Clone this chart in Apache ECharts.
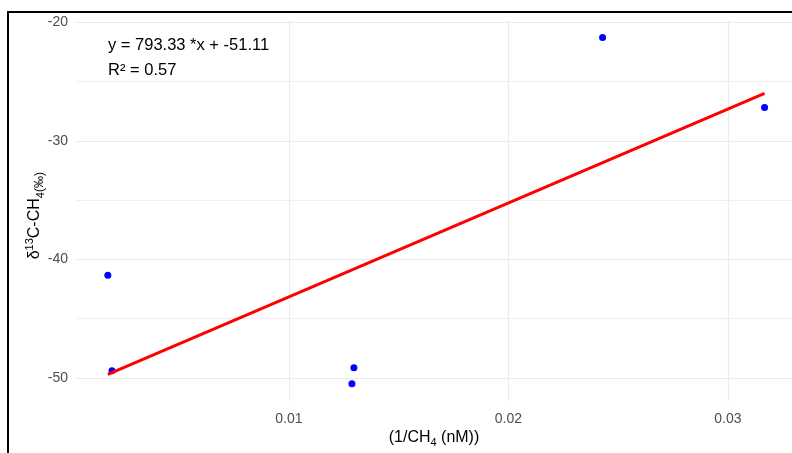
<!DOCTYPE html>
<html>
<head>
<meta charset="utf-8">
<script src="https://cdn.jsdelivr.net/npm/echarts@6/dist/echarts.min.js"></script>
<style>
html,body{margin:0;padding:0;background:#fff;}
#chart{width:792px;height:453px;}
</style>
</head>
<body>
<div id="chart"></div>
<script>
// ---- data ----
const xValues = [0.00175, 0.00194, 0.01287, 0.01296, 0.02429, 0.03167];
const yValues = [-41.34, -49.41, -50.50, -49.16, -21.28, -27.18];
const slope = 793.33;
const intercept = -51.11;
const rSquared = 0.57;
const xTickValues = [0.01, 0.02, 0.03];
const xTickLabels = ['0.01', '0.02', '0.03'];
const xMinorValues = [0.005, 0.015, 0.025];
const yTickValues = [-50, -40, -30, -20];
const yTickLabels = ['-50', '-40', '-30', '-20'];
const yMinorValues = [-45, -35, -25];

// ---- build ----
const points = xValues.map((x, i) => [x, yValues[i]]);
const xLo = Math.min(...xValues), xHi = Math.max(...xValues);
const fitLine = [[xLo, slope * xLo + intercept], [xHi, slope * xHi + intercept]];

const gridColor = '#ebebeb';
const gridLines = [];
xTickValues.forEach(v => gridLines.push({xAxis: v, lineStyle: {color: gridColor, width: 1.1, type: 'solid'}}));
xMinorValues.forEach(v => gridLines.push({xAxis: v, lineStyle: {color: gridColor, width: 0.8, type: 'solid'}}));
yTickValues.forEach(v => gridLines.push({yAxis: v, lineStyle: {color: gridColor, width: 1.1, type: 'solid'}}));
yMinorValues.forEach(v => gridLines.push({yAxis: v, lineStyle: {color: gridColor, width: 0.8, type: 'solid'}}));

const chart = echarts.init(document.getElementById('chart'), null, {renderer: 'canvas'});
const font = 'Liberation Sans, Arial, sans-serif';

chart.setOption({
  animation: false,
  backgroundColor: '#ffffff',
  textStyle: {fontFamily: font},
  grid: {left: 76, top: 20.5, right: 0, height: 383.4, containLabel: false},
  xAxis: {
    type: 'value',
    min: 0.0003, max: 0.03292,
    axisLine: {show: false}, axisTick: {show: false}, splitLine: {show: false},
    axisLabel: {
      customValues: xTickValues,
      formatter: v => { const i = xTickValues.findIndex(t => Math.abs(t - v) < 1e-9); return i >= 0 ? xTickLabels[i] : ''; },
      color: '#4d4d4d', fontSize: 14, margin: 11, fontFamily: font
    },
    name: '{n|(1/CH}{sub|4}{n| (nM))}',
    nameLocation: 'middle', nameGap: 27, nameMoveOverlap: false,
    nameTextStyle: {
      color: '#000', fontFamily: font, fontSize: 16,
      rich: {
        n: {fontSize: 16, lineHeight: 20, color: '#000', fontFamily: font},
        sub: {fontSize: 11, lineHeight: 12, verticalAlign: 'bottom', color: '#000', fontFamily: font}
      }
    }
  },
  yAxis: {
    type: 'value',
    min: -51.96, max: -19.84,
    axisLine: {show: false}, axisTick: {show: false}, splitLine: {show: false},
    axisLabel: {
      customValues: yTickValues,
      formatter: v => { const i = yTickValues.findIndex(t => Math.abs(t - v) < 1e-9); return i >= 0 ? yTickLabels[i] : ''; },
      color: '#4d4d4d', fontSize: 14, margin: 8, fontFamily: font
    },
    name: '{n|δ}{sup|13}{n|C-CH}{sub|4}{pm|(‰)}',
    nameLocation: 'middle', nameGap: 30, nameMoveOverlap: false,
    nameTextStyle: {
      color: '#000', fontFamily: font, fontSize: 16, padding: [0, 10, 0, 0],
      rich: {
        n: {fontSize: 16, lineHeight: 22, color: '#000', fontFamily: font},
        sup: {fontSize: 11, lineHeight: 10, verticalAlign: 'top', color: '#000', fontFamily: font},
        sub: {fontSize: 11, lineHeight: 11, verticalAlign: 'bottom', color: '#000', fontFamily: font},
        pm: {fontSize: 12, lineHeight: 18, verticalAlign: 'bottom', color: '#000', fontFamily: font}
      }
    }
  },
  graphic: [
    {type: 'rect', shape: {x: 8, y: 12, width: 900, height: 600}, style: {fill: 'none', stroke: '#000', lineWidth: 2}, z: 100, silent: true},
    {type: 'text', left: 108, top: 37, style: {text: 'y = ' + slope.toFixed(2) + ' *x + ' + intercept.toFixed(2), fill: '#000', font: '16.5px ' + font}, z: 100},
    {type: 'text', left: 108, top: 62, style: {text: 'R² = ' + rSquared.toFixed(2), fill: '#000', font: '16.5px ' + font}, z: 100}
  ],
  series: [
    {
      type: 'line', data: [], z: 1, silent: true,
      markLine: {silent: true, symbol: ['none', 'none'], label: {show: false}, z: 1, animation: false, data: gridLines}
    },
    {
      type: 'scatter', data: points, symbol: 'circle', symbolSize: 7, z: 3,
      itemStyle: {color: '#0000ff', opacity: 1}
    },
    {
      type: 'line', data: fitLine, symbol: 'none', z: 4,
      lineStyle: {color: '#ff0000', width: 3}
    }
  ]
});
</script>
</body>
</html>
